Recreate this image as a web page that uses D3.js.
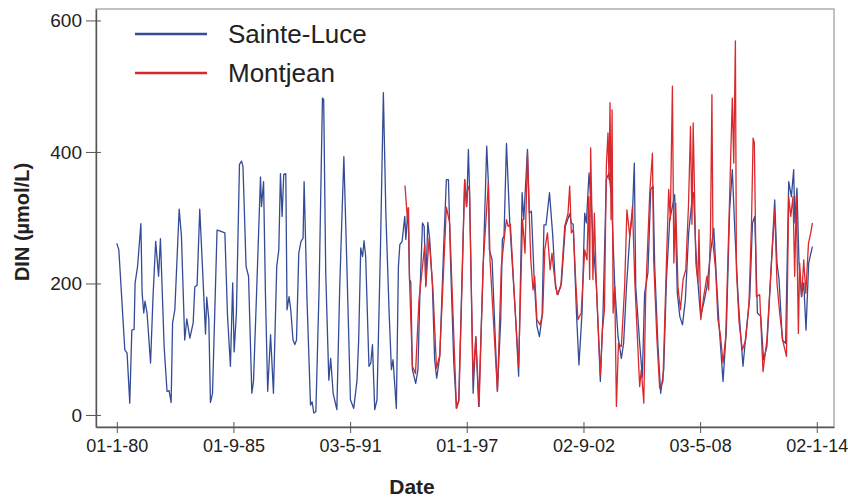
<!DOCTYPE html>
<html>
<head>
<meta charset="utf-8">
<script src="https://cdn.jsdelivr.net/npm/d3@7"></script>
<style>
  body { margin: 0; background: #fff; }
  svg text { font-family: "Liberation Sans", Arial, sans-serif; fill: #222; }
</style>
</head>
<body>
<script>
// series names for legend
var seriesNames = ["Sainte-Luce", "Montjean"];

// x tick dates (decimal year) + the labels shown
var tickYears = [1980.0, 1985.666, 1991.334, 1997.0, 2002.67, 2008.336, 2014.003];
var tickLabels = ["01-1-80", "01-9-85", "03-5-91", "01-1-97", "02-9-02", "03-5-08", "02-1-14"];
var yTicks = [0, 200, 400, 600];

// Sainte-Luce DIN, [decimal year, umol/L]
var sainteLuce = [
  [1980.00,261],[1980.10,251],[1980.39,99],[1980.50,94],[1980.63,18],[1980.73,129],[1980.84,130],
  [1980.89,201],[1981.01,226],[1981.17,291],[1981.23,186],[1981.31,155],[1981.37,173],[1981.47,155],
  [1981.64,79],[1981.76,180],[1981.89,264],[1982.03,211],[1982.12,268],[1982.30,104],[1982.44,36],
  [1982.54,37],[1982.64,19],[1982.71,140],[1982.82,160],[1983.03,313],[1983.14,272],[1983.30,114],
  [1983.40,146],[1983.55,117],[1983.71,140],[1983.79,195],[1983.90,197],[1984.03,313],[1984.16,226],
  [1984.31,123],[1984.37,179],[1984.47,145],[1984.55,19],[1984.65,33],[1984.87,281],[1985.00,280],
  [1985.25,277],[1985.38,150],[1985.52,74],[1985.63,201],[1985.70,96],[1985.81,155],[1985.96,381],
  [1986.06,386],[1986.13,378],[1986.28,226],[1986.40,211],[1986.56,33],[1986.64,51],[1986.79,185],
  [1986.98,362],[1987.03,317],[1987.13,355],[1987.22,185],[1987.33,36],[1987.47,122],[1987.61,33],
  [1987.77,226],[1987.87,251],[1987.95,367],[1988.03,302],[1988.11,366],[1988.21,367],[1988.27,160],
  [1988.37,180],[1988.45,160],[1988.56,114],[1988.65,107],[1988.73,114],[1988.84,246],[1988.95,264],
  [1989.05,269],[1989.10,355],[1989.24,175],[1989.41,15],[1989.49,20],[1989.57,3],[1989.67,5],
  [1989.83,195],[1989.99,482],[1990.05,480],[1990.15,216],[1990.30,53],[1990.39,86],[1990.51,33],
  [1990.69,8],[1990.83,195],[1991.03,393],[1991.16,246],[1991.35,23],[1991.51,10],[1991.67,53],
  [1991.75,114],[1991.85,254],[1991.94,241],[1992.01,265],[1992.09,241],[1992.25,74],[1992.34,79],
  [1992.42,107],[1992.53,8],[1992.64,23],[1992.81,256],[1992.95,490],[1993.07,307],[1993.23,155],
  [1993.34,69],[1993.42,84],[1993.58,10],[1993.68,226],[1993.75,259],[1993.86,264],[1993.99,302],
  [1994.04,267],[1994.15,315],[1994.22,206],[1994.28,203],[1994.36,69],[1994.52,48],[1994.63,69],
  [1994.72,180],[1994.85,292],[1994.93,287],[1995.01,198],[1995.11,293],[1995.20,267],[1995.33,198],
  [1995.44,84],[1995.54,56],[1995.69,89],[1995.88,256],[1996.01,358],[1996.11,358],[1996.22,226],
  [1996.37,79],[1996.50,10],[1996.61,23],[1996.90,358],[1997.00,317],[1997.08,404],[1997.14,338],
  [1997.31,33],[1997.44,119],[1997.58,13],[1997.78,206],[1997.97,409],[1998.05,353],[1998.10,251],
  [1998.23,236],[1998.49,36],[1998.65,145],[1998.73,267],[1998.81,272],[1998.93,413],[1999.09,292],
  [1999.36,155],[1999.52,59],[1999.69,338],[1999.77,297],[1999.95,404],[2000.04,307],[2000.14,310],
  [2000.27,211],[2000.41,135],[2000.53,119],[2000.66,150],[2000.75,289],[2000.85,289],[2001.02,338],
  [2001.18,272],[2001.31,195],[2001.43,183],[2001.60,201],[2001.79,287],[2002.00,306],[2002.08,292],
  [2002.17,290],[2002.33,155],[2002.45,76],[2002.60,155],[2002.73,307],[2002.81,292],[2002.94,368],
  [2003.06,317],[2003.13,267],[2003.30,195],[2003.49,51],[2003.62,155],[2003.78,358],[2003.91,368],
  [2004.03,332],[2004.19,195],[2004.35,119],[2004.51,86],[2004.62,109],[2004.76,195],[2004.92,272],
  [2005.05,307],[2005.14,383],[2005.21,195],[2005.40,109],[2005.53,58],[2005.64,185],[2005.80,216],
  [2005.94,343],[2006.05,348],[2006.13,226],[2006.29,104],[2006.42,33],[2006.57,69],[2006.70,206],
  [2006.86,297],[2006.99,317],[2007.10,335],[2007.23,185],[2007.35,150],[2007.48,137],[2007.62,175],
  [2007.78,277],[2007.96,332],[2008.02,338],[2008.12,256],[2008.23,201],[2008.36,150],[2008.51,170],
  [2008.67,195],[2008.84,246],[2009.00,284],[2009.13,206],[2009.25,140],[2009.45,51],[2009.61,129],
  [2009.77,312],[2009.90,373],[2010.02,282],[2010.18,180],[2010.29,129],[2010.42,74],[2010.55,119],
  [2010.75,180],[2010.88,292],[2010.99,302],[2011.12,155],[2011.28,150],[2011.42,84],[2011.58,104],
  [2011.80,231],[2011.96,327],[2012.07,231],[2012.17,206],[2012.33,114],[2012.49,109],[2012.64,355],
  [2012.77,332],[2012.88,373],[2012.94,292],[2013.04,345],[2013.14,231],[2013.26,180],[2013.37,201],
  [2013.48,129],[2013.61,231],[2013.79,256]
];

// Montjean DIN
var montjean = [
  [1994.00,349],[1994.12,297],[1994.17,315],[1994.22,206],[1994.36,74],[1994.51,63],[1994.68,175],
  [1994.96,259],[1995.01,195],[1995.17,269],[1995.36,190],[1995.53,71],[1995.69,91],[1996.01,316],
  [1996.17,292],[1996.50,10],[1996.62,21],[1996.90,358],[1996.98,317],[1997.06,348],[1997.13,342],
  [1997.31,53],[1997.44,119],[1997.60,13],[1997.79,226],[1998.05,353],[1998.13,236],[1998.49,36],
  [1998.68,226],[1998.85,277],[1998.93,297],[1999.01,287],[1999.12,290],[1999.36,155],[1999.52,74],
  [1999.71,297],[1999.83,246],[1999.95,398],[2000.04,302],[2000.11,236],[2000.22,190],[2000.30,211],
  [2000.41,145],[2000.56,137],[2000.69,155],[2000.79,251],[2000.92,277],[2001.05,221],[2001.14,246],
  [2001.24,216],[2001.39,183],[2001.57,195],[2001.76,287],[2001.92,307],[2002.00,348],[2002.08,277],
  [2002.18,282],[2002.29,206],[2002.40,145],[2002.56,155],[2002.73,251],[2002.84,236],[2002.92,332],
  [2002.97,206],[2003.02,406],[2003.07,322],[2003.13,206],[2003.20,307],[2003.30,195],[2003.49,61],
  [2003.59,129],[2003.69,160],[2003.78,378],[2003.86,429],[2003.91,358],[2003.96,475],[2004.01,297],
  [2004.06,464],[2004.11,155],[2004.19,195],[2004.27,13],[2004.37,109],[2004.51,104],[2004.67,195],
  [2004.78,312],[2004.92,272],[2005.05,317],[2005.16,206],[2005.40,43],[2005.48,69],[2005.60,18],
  [2005.69,180],[2005.89,338],[2006.02,398],[2006.08,236],[2006.24,114],[2006.37,41],[2006.53,51],
  [2006.70,231],[2006.81,343],[2006.89,297],[2006.99,500],[2007.06,231],[2007.15,322],[2007.26,195],
  [2007.38,160],[2007.51,206],[2007.64,221],[2007.77,317],[2007.87,439],[2007.94,290],[2008.00,444],
  [2008.13,231],[2008.23,201],[2008.28,282],[2008.37,145],[2008.51,180],[2008.67,211],[2008.75,190],
  [2008.84,277],[2008.91,487],[2008.96,261],[2009.09,221],[2009.20,145],[2009.32,122],[2009.45,79],
  [2009.58,119],[2009.74,297],[2009.90,482],[2009.97,383],[2010.05,569],[2010.10,221],[2010.23,140],
  [2010.39,99],[2010.55,114],[2010.71,170],[2010.83,287],[2010.91,421],[2010.97,414],[2011.07,180],
  [2011.23,183],[2011.39,66],[2011.58,114],[2011.80,231],[2011.96,312],[2012.07,201],[2012.20,155],
  [2012.36,112],[2012.53,89],[2012.64,332],[2012.74,302],[2012.85,332],[2012.93,211],[2013.01,332],
  [2013.11,124],[2013.17,231],[2013.27,180],[2013.37,236],[2013.47,185],[2013.60,261],[2013.71,277],
  [2013.79,292]
];

var colors = ["#344c96", "#d9292c"];

var W = 848, H = 500;
var plot = {left: 96, right: 834, top: 9, bottom: 427};

var svg = d3.select("body").append("svg")
  .attr("width", W)
  .attr("height", H);

// scales: 1980 sits at px 117, 2014 at px 817; 0 at 415 and 600 at 21
var x = d3.scaleLinear()
  .domain([1978.99, 2014.84])
  .range([plot.left, plot.right]);
var y = d3.scaleLinear()
  .domain([-18.3, 617.4])
  .range([plot.bottom, plot.top]);

// frame, top/right lighter
svg.append("rect")
  .attr("x", plot.left).attr("y", plot.top)
  .attr("width", plot.right - plot.left)
  .attr("height", plot.bottom - plot.top)
  .attr("fill", "none")
  .attr("stroke", "#9a9a9a")
  .attr("stroke-width", 1.2);

var line = d3.line()
  .x(function(d) { return x(d[0]); })
  .y(function(d) { return y(d[1]); });

[sainteLuce, montjean].forEach(function(s, i) {
  svg.append("path")
    .datum(s)
    .attr("d", line)
    .attr("fill", "none")
    .attr("stroke", colors[i])
    .attr("stroke-width", 1.3)
    .attr("stroke-linejoin", "round");
});

// axes
var xAxis = d3.axisBottom(x)
  .tickValues(tickYears)
  .tickSizeInner(6).tickSizeOuter(0)
  .tickPadding(6)
  .tickFormat(function(d, i) { return tickLabels[i]; });

var gx = svg.append("g")
  .attr("transform", "translate(0," + plot.bottom + ")")
  .call(xAxis);
gx.select(".domain").attr("stroke", "#555").attr("stroke-width", 1.4);
gx.selectAll(".tick line").attr("stroke", "#555").attr("y1", -5).attr("y2", 6);
gx.selectAll(".tick text").attr("font-size", 18).attr("fill", "#222")
  .attr("font-family", "'Liberation Sans', Arial, sans-serif");

var yAxis = d3.axisLeft(y)
  .tickValues(yTicks)
  .tickSizeInner(10).tickSizeOuter(0)
  .tickPadding(4);

var gy = svg.append("g")
  .attr("transform", "translate(" + plot.left + ",0)")
  .call(yAxis);
gy.select(".domain").attr("stroke", "#555").attr("stroke-width", 1.4);
gy.selectAll(".tick line").attr("stroke", "#555").attr("x1", -10).attr("x2", 5);
gy.selectAll(".tick text").attr("font-size", 19).attr("fill", "#222")
  .attr("font-family", "'Liberation Sans', Arial, sans-serif");

// axis titles
svg.append("text")
  .attr("x", 412).attr("y", 494)
  .attr("text-anchor", "middle")
  .attr("font-size", 21).attr("font-weight", "bold")
  .text("Date");

svg.append("text")
  .attr("transform", "translate(29,222) rotate(-90)")
  .attr("text-anchor", "middle")
  .attr("font-size", 20).attr("font-weight", "bold")
  .text("DIN (\u00b5mol/L)");

// legend
var legend = svg.append("g");
seriesNames.forEach(function(name, i) {
  var ly = 34 + i * 39;
  legend.append("line")
    .attr("x1", 135).attr("x2", 207)
    .attr("y1", ly).attr("y2", ly)
    .attr("stroke", colors[i])
    .attr("stroke-width", 2.5);
  legend.append("text")
    .attr("x", 228).attr("y", ly + 9)
    .attr("font-size", 26)
    .text(name);
});
</script>
</body>
</html>
